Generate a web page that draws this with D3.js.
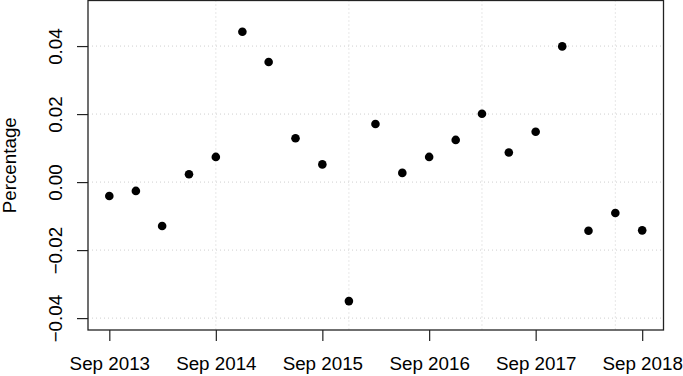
<!DOCTYPE html>
<html>
<head>
<meta charset="utf-8">
<script src="https://cdn.jsdelivr.net/npm/d3@7"></script>
<style>
	body { margin:0; background:#fff; }
	svg text { font-family: "Liberation Sans", Arial, Helvetica, sans-serif; fill:#000; }
</style>
</head>
<body>
<svg id="svg" width="683" height="376"></svg>
<script>

// quarterly dates, Sep 2013 .. Sep 2018
var quarters = [
	"2013-09","2013-12","2014-03","2014-06","2014-09","2014-12","2015-03",
	"2015-06","2015-09","2015-12","2016-03","2016-06","2016-09","2016-12",
	"2017-03","2017-06","2017-09","2017-12","2018-03","2018-06","2018-09"
];

// percentage values
var values = [
	-0.0041, -0.0026, -0.0129, 0.0023, 0.0074, 0.0442, 0.0353,
	 0.0129,  0.0052, -0.0350, 0.0171, 0.0027, 0.0074, 0.0124,
	 0.0201,  0.0087,  0.0148, 0.0399, -0.0143, -0.0091, -0.0142
];

// x axis tick labels (one per year)
var xTicks = ["2013-09","2014-09","2015-09","2016-09","2017-09","2018-09"];

// vertical grid lines (every 5th observation)
var xGrid = ["2014-09","2015-12","2017-03","2018-06"];

// y axis ticks
var yTicks = [-0.04, -0.02, 0.00, 0.02, 0.04];

// y limits of the plot region
var yLimits = [-0.0435, 0.0534];

var parseDate = d3.timeParse("%Y-%m");

var data = quarters.map(function(q, i){
	return { date: parseDate(q), value: values[i] };
});

// plot region (note: "top" is reserved on window, so use plot* names)
var plotLeft = 88, plotRight = 663.5, plotTop = 0.5, plotBottom = 330;

var svg = d3.select("#svg");

// R style: extend data range by 4% on each side
var xExtent = d3.extent(data, function(d){ return d.date; });
var xPad = (xExtent[1] - xExtent[0]) * 0.04;

var x = d3.scaleTime()
	.domain([ new Date(+xExtent[0] - xPad), new Date(+xExtent[1] + xPad) ])
	.range([ plotLeft, plotRight ]);

var y = d3.scaleLinear()
	.domain(yLimits)
	.range([ plotBottom, plotTop ]);

var grid = svg.append("g")
	.attr("stroke", "#cfcfcf")
	.attr("stroke-width", 1)
	.attr("stroke-dasharray", "1,3");

// horizontal grid
grid.selectAll("line.h")
	.data(yTicks)
	.enter().append("line")
	.attr("class", "h")
	.attr("x1", plotLeft).attr("x2", plotRight)
	.attr("y1", function(d){ return y(d); })
	.attr("y2", function(d){ return y(d); });

// vertical grid
grid.selectAll("line.v")
	.data(xGrid.map(parseDate))
	.enter().append("line")
	.attr("class", "v")
	.attr("y1", plotTop).attr("y2", plotBottom)
	.attr("x1", function(d){ return x(d); })
	.attr("x2", function(d){ return x(d); });

// points
svg.append("g")
	.selectAll("circle")
	.data(data)
	.enter().append("circle")
	.attr("cx", function(d){ return x(d.date); })
	.attr("cy", function(d){ return y(d.value); })
	.attr("r", 4.3)
	.attr("fill", "#000");

// x axis
var xAxis = d3.axisBottom(x)
	.tickValues(xTicks.map(parseDate))
	.tickFormat(d3.timeFormat("%b %Y"))
	.tickSize(11)
	.tickSizeOuter(0);

var gx = svg.append("g")
	.attr("transform", "translate(0," + plotBottom + ")")
	.call(xAxis);

gx.select(".domain").remove();
gx.selectAll(".tick line").attr("stroke", "#222").attr("stroke-width", 1.2);
gx.selectAll(".tick text")
	.attr("y", 0).attr("dy", 0)
	.attr("transform", "translate(0,40)")
	.style("font-size", "18.8px")
	.style("font-family", "'Liberation Sans', Arial, sans-serif")
	.attr("fill", "#000");

// y axis
var yAxis = d3.axisLeft(y)
	.tickValues(yTicks)
	.tickFormat(d3.format(".2f"))
	.tickSize(11)
	.tickSizeOuter(0);

var gy = svg.append("g")
	.attr("transform", "translate(" + plotLeft + ",0)")
	.call(yAxis);

gy.select(".domain").remove();
gy.selectAll(".tick line").attr("stroke", "#222").attr("stroke-width", 1.2);
gy.selectAll(".tick text")
	.attr("x", 0).attr("dy", 0)
	.attr("text-anchor", "middle")
	.attr("transform", "translate(-26.5,0) rotate(-90)")
	.style("font-size", "18.8px")
	.style("font-family", "'Liberation Sans', Arial, sans-serif")
	.attr("fill", "#000")
	.text(function(d){ return d < 0 ? "\u2212" + d3.format(".2f")(-d) : d3.format(".2f")(d); });

// box around the plot region
svg.append("rect")
	.attr("x", plotLeft).attr("y", plotTop)
	.attr("width", plotRight - plotLeft).attr("height", plotBottom - plotTop)
	.attr("fill", "none")
	.attr("stroke", "#222")
	.attr("stroke-width", 1.3);

// y label
svg.append("text")
	.attr("transform", "translate(16," + ((plotTop + plotBottom) / 2) + ") rotate(-90)")
	.attr("text-anchor", "middle")
	.style("font-size", "18.8px")
	.text("Percentage");

</script>
</body>
</html>
